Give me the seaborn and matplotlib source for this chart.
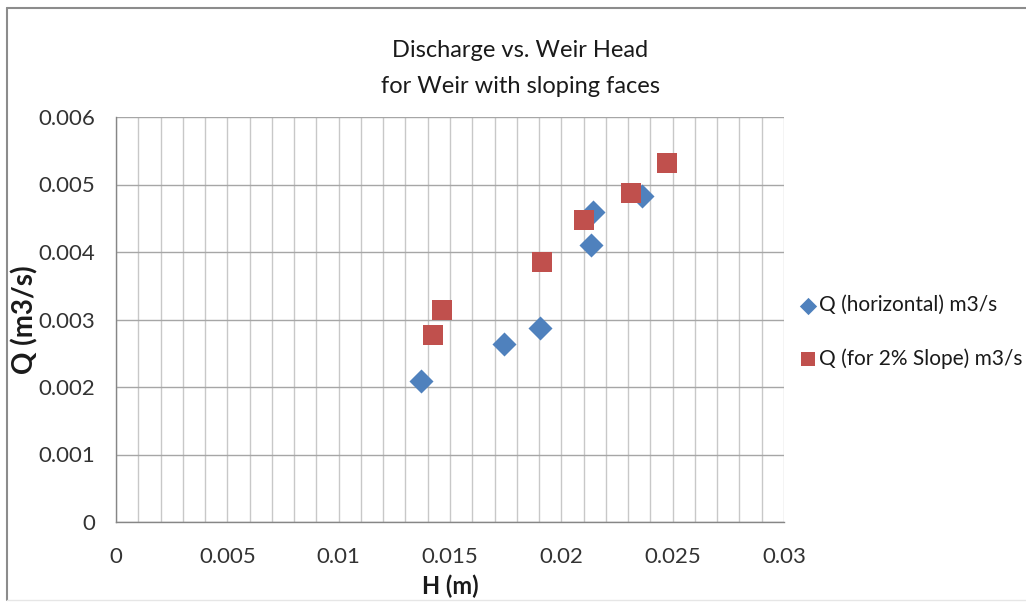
import matplotlib
matplotlib.use("Agg")
import matplotlib.pyplot as plt
from matplotlib.lines import Line2D
import seaborn as sns
import pandas as pd

# Measured head (m) and discharge (m3/s) for the two weir configurations
h_horizontal = [0.01368, 0.01741, 0.01903, 0.02132, 0.02144, 0.02364]
q_horizontal = [0.002089, 0.002633, 0.002870, 0.004099, 0.004597, 0.004834]
h_slope = [0.01422, 0.01463, 0.01912, 0.02102, 0.02312, 0.02473]
q_slope = [0.002770, 0.003145, 0.003847, 0.004479, 0.004874, 0.005323]

series_names = ["Q (horizontal) m3/s", "Q (for 2% Slope) m3/s"]
series_colors = ["#4F81BD", "#C0504D"]
series_markers = ["D", "s"]

x_ticks = [0, 0.005, 0.01, 0.015, 0.02, 0.025, 0.03]
x_tick_labels = ["0", "0.005", "0.01", "0.015", "0.02", "0.025", "0.03"]
x_minor = [i / 1000 for i in range(31)]
y_ticks = [0, 0.001, 0.002, 0.003, 0.004, 0.005, 0.006]
y_tick_labels = ["0", "0.001", "0.002", "0.003", "0.004", "0.005", "0.006"]

df = pd.concat([
    pd.DataFrame({"H": h_horizontal, "Q": q_horizontal, "series": series_names[0]}),
    pd.DataFrame({"H": h_slope, "Q": q_slope, "series": series_names[1]}),
], ignore_index=True)

sns.set_theme(style="white")
plt.rcParams["font.family"] = ["Lato", "DejaVu Sans"]

fig = plt.figure(figsize=(10.26, 6.02), dpi=100)
ax = fig.add_axes([116 / 1026, 1 - 522 / 602, (784 - 116) / 1026, (522 - 117) / 602])

# draw the two series separately so each marker keeps its own size
for name, color, marker, size in zip(series_names, series_colors, series_markers, [150, 200]):
    sub = df[df["series"] == name]
    sns.scatterplot(data=sub, x="H", y="Q", ax=ax, color=color, marker=marker,
                    s=size, linewidth=0, label=name, zorder=3)

ax.set_xlim(0, 0.03)
ax.set_ylim(0, 0.006)
ax.set_xticks(x_ticks)
ax.set_xticklabels(x_tick_labels)
ax.set_xticks(x_minor, minor=True)
ax.set_yticks(y_ticks)
ax.set_yticklabels(y_tick_labels)

ax.grid(which="minor", axis="x", color="#C8C8C8", linewidth=1.0)
ax.grid(which="major", axis="x", color="#C8C8C8", linewidth=1.0)
ax.grid(which="major", axis="y", color="#A6A6A6", linewidth=1.0)
ax.set_axisbelow(True)

for side in ["top", "right"]:
    ax.spines[side].set_visible(False)
for side in ["left", "bottom"]:
    ax.spines[side].set_color("#868686")
    ax.spines[side].set_linewidth(1.0)

ax.tick_params(axis="both", which="major", direction="out", length=6, width=1,
               color="#868686", labelsize=16, labelcolor="#333333")
ax.tick_params(axis="x", which="major", pad=12)
ax.tick_params(axis="y", which="major", pad=9)
ax.tick_params(axis="x", which="minor", length=0)

ax.set_xlabel("H (m)", fontsize=17, fontweight="bold", color="#1a1a1a")
ax.xaxis.label.set_va("center")
ax.xaxis.set_label_coords(0.5, (522 - 586) / 405)
ax.set_ylabel("Q (m3/s)", fontsize=20, fontweight="bold", color="#1a1a1a")
ax.yaxis.label.set_va("center")
ax.yaxis.set_label_coords((25 - 116) / 668, 0.5)

fig.text(0.507, 1 - 57 / 602, "Discharge vs. Weir Head", ha="center", va="baseline",
         fontsize=17, color="#1a1a1a")
fig.text(0.507, 1 - 93 / 602, "for Weir with sloping faces", ha="center", va="baseline",
         fontsize=17, color="#1a1a1a")

leg = ax.legend(loc="center left", bbox_to_anchor=(791 / 1026, 1 - 332 / 602),
                bbox_transform=fig.transFigure, frameon=False, fontsize=15,
                handlelength=0.8, handletextpad=0.15, labelspacing=1.6,
                markerscale=0.72, borderaxespad=0)
for t in leg.get_texts():
    t.set_color("#1a1a1a")

# chart frame: dark left and top edges, faint bottom edge
fx0, fy_top, fy_bot = 7 / 1026, 1 - 8 / 602, 1 - 600 / 602
fig.add_artist(Line2D([fx0, fx0], [fy_bot, fy_top], transform=fig.transFigure,
                      color="#8C8C8C", linewidth=1.5))
fig.add_artist(Line2D([fx0, 1], [fy_top, fy_top], transform=fig.transFigure,
                      color="#8C8C8C", linewidth=1.5))
fig.add_artist(Line2D([fx0, 1], [fy_bot, fy_bot], transform=fig.transFigure,
                      color="#E6E6E6", linewidth=1.0))

fig.savefig("out.png", dpi=100)
